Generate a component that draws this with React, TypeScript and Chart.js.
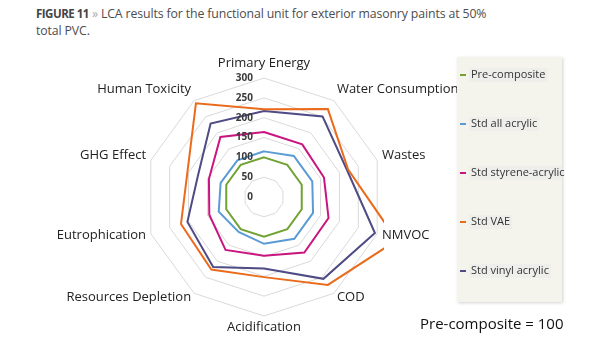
import React, { useEffect, useRef } from 'react';
import { Chart, registerables } from 'chart.js';

Chart.register(...registerables);

const categories = [
  'Primary Energy',
  'Water Consumption',
  'Wastes',
  'NMVOC',
  'COD',
  'Acidification',
  'Resources Depletion',
  'Eutrophication',
  'GHG Effect',
  'Human Toxicity',
];

const preComposite = [100, 100, 100, 100, 100, 100, 100, 100, 100, 100];
const stdAllAcrylic = [115, 128, 128, 130, 130, 118, 109, 120, 115, 114];
const stdStyreneAcrylic = [164, 164, 159, 171, 173, 148, 165, 145, 146, 187];
const stdVAE = [221, 274, 223, 352, 274, 202, 226, 220, 203, 292];
const stdVinylAcrylic = [217, 251, 220, 294, 255, 180, 218, 203, 175, 229];

const seriesNames = ['Pre-composite', 'Std all acrylic', 'Std styrene-acrylic', 'Std VAE', 'Std vinyl acrylic'];
const seriesColors = ['#72a332', '#5b9bd5', '#c9157f', '#ea6b1c', '#4e4b85'];
const seriesValues = [preComposite, stdAllAcrylic, stdStyreneAcrylic, stdVAE, stdVinylAcrylic];

const axisMin = 0;
const axisMax = 300;
const axisStep = 50;

const overlayPlugin = {
  id: 'overlay',
  afterDatasetsDraw(chart: any) {
    const ctx = chart.ctx;
    const s = chart.scales.r;
    ctx.save();
    // tick labels
    ctx.font = 'bold 10px "Open Sans"';
    ctx.fillStyle = '#3a3a3a';
    ctx.textAlign = 'right';
    ctx.textBaseline = 'middle';
    s.ticks.forEach((t: any) => {
      const d = s.getDistanceFromCenterForValue(t.value);
      ctx.fillText(String(t.label), s.xCenter - 11, s.yCenter - d);
    });
    // point labels
    ctx.font = '13px "Open Sans"';
    ctx.fillStyle = '#222';
    const r = s.drawingArea;
    chart.data.labels.forEach((lab: string, i: number) => {
      const p = s.getPointPosition(i, r + 5);
      const ang = s.getIndexAngle(i);
      const sin = Math.sin(ang);
      const cos = Math.cos(ang);
      const centered = Math.abs(sin) < 0.1;
      ctx.textAlign = centered ? 'center' : sin > 0 ? 'left' : 'right';
      ctx.textBaseline = 'middle';
      const yOff = cos > 0 ? -cos * 9.5 : centered ? 6 : 0;
      ctx.fillText(lab, p.x, p.y + yOff);
    });
    ctx.restore();
  },
  afterDraw(chart: any) {
    const ctx = chart.ctx;
    ctx.save();
    // legend box
    ctx.shadowColor = 'rgba(0,0,0,0.18)';
    ctx.shadowBlur = 3;
    ctx.shadowOffsetX = 1;
    ctx.shadowOffsetY = 1;
    ctx.fillStyle = '#f4f4ec';
    ctx.fillRect(457, 57, 105, 245);
    ctx.shadowColor = 'transparent';
    ctx.font = '11px "Open Sans"';
    ctx.textBaseline = 'middle';
    ctx.textAlign = 'left';
    chart.data.datasets.forEach((ds: any, i: number) => {
      const y = 75 + i * 49;
      const w = ctx.measureText(ds.label).width;
      ctx.fillStyle = '#eeeeea';
      ctx.fillRect(469, y - 7, Math.min(w + 4, 93), 14);
      ctx.strokeStyle = ds.borderColor;
      ctx.lineWidth = 2;
      ctx.beginPath();
      ctx.moveTo(460, y);
      ctx.lineTo(466, y);
      ctx.stroke();
      ctx.fillStyle = '#333';
      ctx.fillText(ds.label, 471, y);
    });
    // note
    ctx.font = '15px "Open Sans"';
    ctx.fillStyle = '#111';
    ctx.fillText('Pre-composite = 100', 420, 325);
    ctx.restore();
  },
};

export default function App() {
  const ref = useRef<HTMLCanvasElement | null>(null);

  useEffect(() => {
    if (!ref.current) return;
    const chart = new Chart(ref.current, {
      type: 'radar',
      data: {
        labels: categories,
        datasets: seriesNames.map((name, i) => ({
          label: name,
          data: seriesValues[i],
          borderColor: seriesColors[i],
          backgroundColor: 'transparent',
          borderWidth: 2,
          fill: false,
          pointRadius: 0,
          tension: 0,
          clip: { left: 150, top: 80, right: 0, bottom: 40 },
        })),
      },
      options: {
        responsive: false,
        animation: false,
        layout: { padding: { left: 144, top: 78, right: 615 - 384, bottom: 350 - 78 - 239 } },
        plugins: {
          legend: { display: false },
          tooltip: { enabled: false },
          title: { display: false },
        },
        scales: {
          r: {
            min: axisMin,
            max: axisMax,
            ticks: { stepSize: axisStep, display: false },
            angleLines: { display: false },
            grid: { color: '#d9d9d9', lineWidth: 1 },
            pointLabels: { display: false },
          },
        },
      },
      plugins: [overlayPlugin],
    } as any);
    return () => chart.destroy();
  }, []);

  return (
    <div style={{ position: 'absolute', left: 0, top: 0, width: 615, height: 350, background: '#fff' }}>
      <div
        style={{
          position: 'absolute',
          left: 36,
          top: 5,
          width: 570,
          font: '12.3px "Open Sans"',
          letterSpacing: '-0.12px',
          lineHeight: '17px',
          color: '#4d4d4d',
          whiteSpace: 'nowrap',
        }}
      >
        <b style={{ color: '#444', fontSize: '11.5px', letterSpacing: '-0.5px' }}>FIGURE 11</b>{' '}
        <span style={{ color: '#aaa' }}>»</span> LCA results for the functional unit for exterior masonry paints at 50%
        <br />
        total PVC.
      </div>
      <canvas ref={ref} width={615} height={350} style={{ position: 'absolute', left: 0, top: 0, display: 'block' }} />
    </div>
  );
}
